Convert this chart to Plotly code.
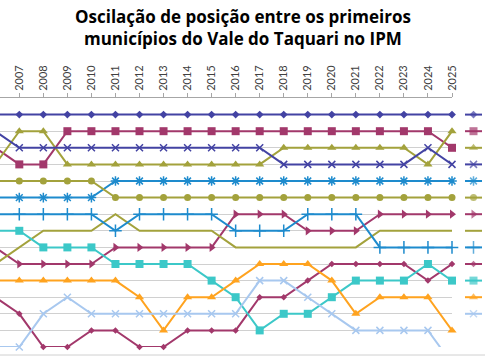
import plotly.graph_objects as go

years = list(range(2006, 2026))
tick_years = list(range(2007, 2026))

names = ["Série 1", "Série 2", "Série 3", "Série 4", "Série 5", "Série 6", "Série 7",
         "Série 8", "Série 9", "Série 10", "Série 11", "Série 12", "Série 13"]

s1 = [1] * 20
s2 = [3, 4, 4, 2, 2, 2, 2, 2, 2, 2, 2, 2, 2, 2, 2, 2, 2, 2, 2, 3]
s3 = [4, 2, 2, 4, 4, 4, 4, 4, 4, 4, 4, 4, 3, 3, 3, 3, 3, 3, 4, 2]
s4 = [2, 3, 3, 3, 3, 3, 3, 3, 3, 3, 3, 3, 4, 4, 4, 4, 4, 4, 3, 4]
s5 = [6, 6, 6, 6, 6, 5, 5, 5, 5, 5, 5, 5, 5, 5, 5, 5, 5, 5, 5, 5]
s6 = [5, 5, 5, 5, 5, 6, 6, 6, 6, 6, 6, 6, 6, 6, 6, 6, 6, 6, 6, 6]
s7 = [9, 10, 10, 10, 10, 9, 9, 9, 9, 9, 7, 7, 7, 8, 8, 8, 7, 7, 7, 7]
s8 = [10, 9, 8, 8, 8, 7, 8, 8, 8, 8, 9, 9, 9, 9, 9, 9, 8, 8, 8, 8]
s9 = [7, 7, 7, 7, 7, 8, 7, 7, 7, 7, 8, 8, 8, 7, 7, 7, 9, 9, 9, 9]
s10 = [12, 13, 15, 15, 14, 14, 15, 15, 14, 14, 14, 12, 12, 11, 10, 10, 10, 10, 11, 10]
s11 = [8, 8, 9, 9, 9, 10, 10, 10, 10, 11, 12, 14, 13, 13, 12, 11, 11, 11, 10, 11]
s12 = [11, 11, 11, 11, 11, 11, 12, 14, 12, 12, 11, 10, 10, 10, 11, 13, 12, 12, 12, 14]
s13 = [15, 15, 13, 12, 13, 13, 13, 13, 13, 13, 13, 11, 11, 12, 13, 14, 14, 14, 14, 16]

series = [s1, s2, s3, s4, s5, s6, s7, s8, s9, s10, s11, s12, s13]

title_text = "Oscilação de posição entre os primeiros<br>municípios do Vale do Taquari no IPM"

# styles
colors = ["#4343a3", "#a2386b", "#a3a23c", "#4343a3", "#1e8bcd", "#a3a23c", "#a2386b",
          "#a3a23c", "#1e8bcd", "#a2386b", "#3cc8c8", "#ffa31f", "#a8c8ef"]
symbols = ["diamond", "square", "triangle-up", "x-thin-open", "asterisk-open", "circle",
           "triangle-right", None, "cross-thin-open", "diamond", "square", "triangle-up",
           "x-thin-open"]
sizes = [6, 8, 8, 7, 8, 7, 8, 0, 9, 5, 8, 8, 7]

fig = go.Figure()

for i, (vals, nm) in enumerate(zip(series, names)):
    sym = symbols[i]
    is_open = sym is not None and sym.endswith("-open")
    marker = dict(color=colors[i], size=sizes[i],
                  line=dict(width=1.5 if is_open else 0, color=colors[i]))
    if sym is not None:
        marker["symbol"] = sym
    fig.add_trace(go.Scatter(
        x=years, y=vals, name=nm,
        mode="lines+markers" if sym is not None else "lines",
        line=dict(color=colors[i], width=2),
        marker=marker, cliponaxis=False, showlegend=False,
        xaxis="x", yaxis="y"))

# legend samples (symbols only, text is outside the visible window)
for i, nm in enumerate(names):
    sym = symbols[i]
    is_open = sym is not None and sym.endswith("-open")
    msize = sizes[i] if sym is not None else 0
    fig.add_trace(go.Scatter(
        x=[0, 0.5, 1], y=[i + 1] * 3, name=nm,
        mode="lines+markers",
        line=dict(color=colors[i], width=2),
        marker=dict(color=colors[i], symbol=sym if sym else "circle",
                    size=[0, msize, 0],
                    line=dict(width=1.5 if is_open else 0, color=colors[i])),
        cliponaxis=False, showlegend=False, hoverinfo="skip",
        xaxis="x2", yaxis="y2"))

W, H = 485, 360
T, B = 98, 13
plot_h = H - T - B
plot_right = 452
fig.update_layout(
    width=W, height=H,
    margin=dict(l=0, r=0, t=T, b=B, autoexpand=False),
    paper_bgcolor="white", plot_bgcolor="white",
    showlegend=False,
    font=dict(family="Lato", size=11, color="#404040"),
    xaxis=dict(domain=[0, plot_right / W], range=[2006.197, 2025], side="top",
               tickmode="array", tickvals=tick_years, ticktext=[str(y) for y in tick_years],
               tickangle=-90, ticks="outside", ticklen=4, tickcolor="#a6a6a6",
               showline=True, linecolor="#a6a6a6", linewidth=1,
               showgrid=False, zeroline=False,
               tickfont=dict(family="Lato", size=11, color="#404040")),
    yaxis=dict(domain=[0, 1], range=[15, 0], dtick=1, tick0=0,
               showgrid=True, gridcolor="#d0d0d0", gridwidth=1,
               showticklabels=False, ticks="", zeroline=False, showline=False),
    xaxis2=dict(domain=[465 / W, 482 / W], range=[0, 1], visible=False, anchor="y2"),
    yaxis2=dict(domain=[0, 1], range=[15, 0], visible=False, anchor="x2"),
    shapes=[dict(type="line", xref="paper", yref="paper", x0=0, x1=1,
                 y0=-8 / plot_h, y1=-8 / plot_h, line=dict(color="#d0d0d0", width=1))],
    annotations=[dict(text=title_text, xref="paper", yref="paper",
                      x=0.5, xanchor="center", y=1 + (T - 3) / plot_h, yanchor="top",
                      showarrow=False, align="center",
                      font=dict(family="Open Sans", size=17, color="#000000",
                                weight="bold"))],
)

fig.write_html("out.html", config={"displayModeBar": False},
               post_script="document.body.style.margin='0px';")
